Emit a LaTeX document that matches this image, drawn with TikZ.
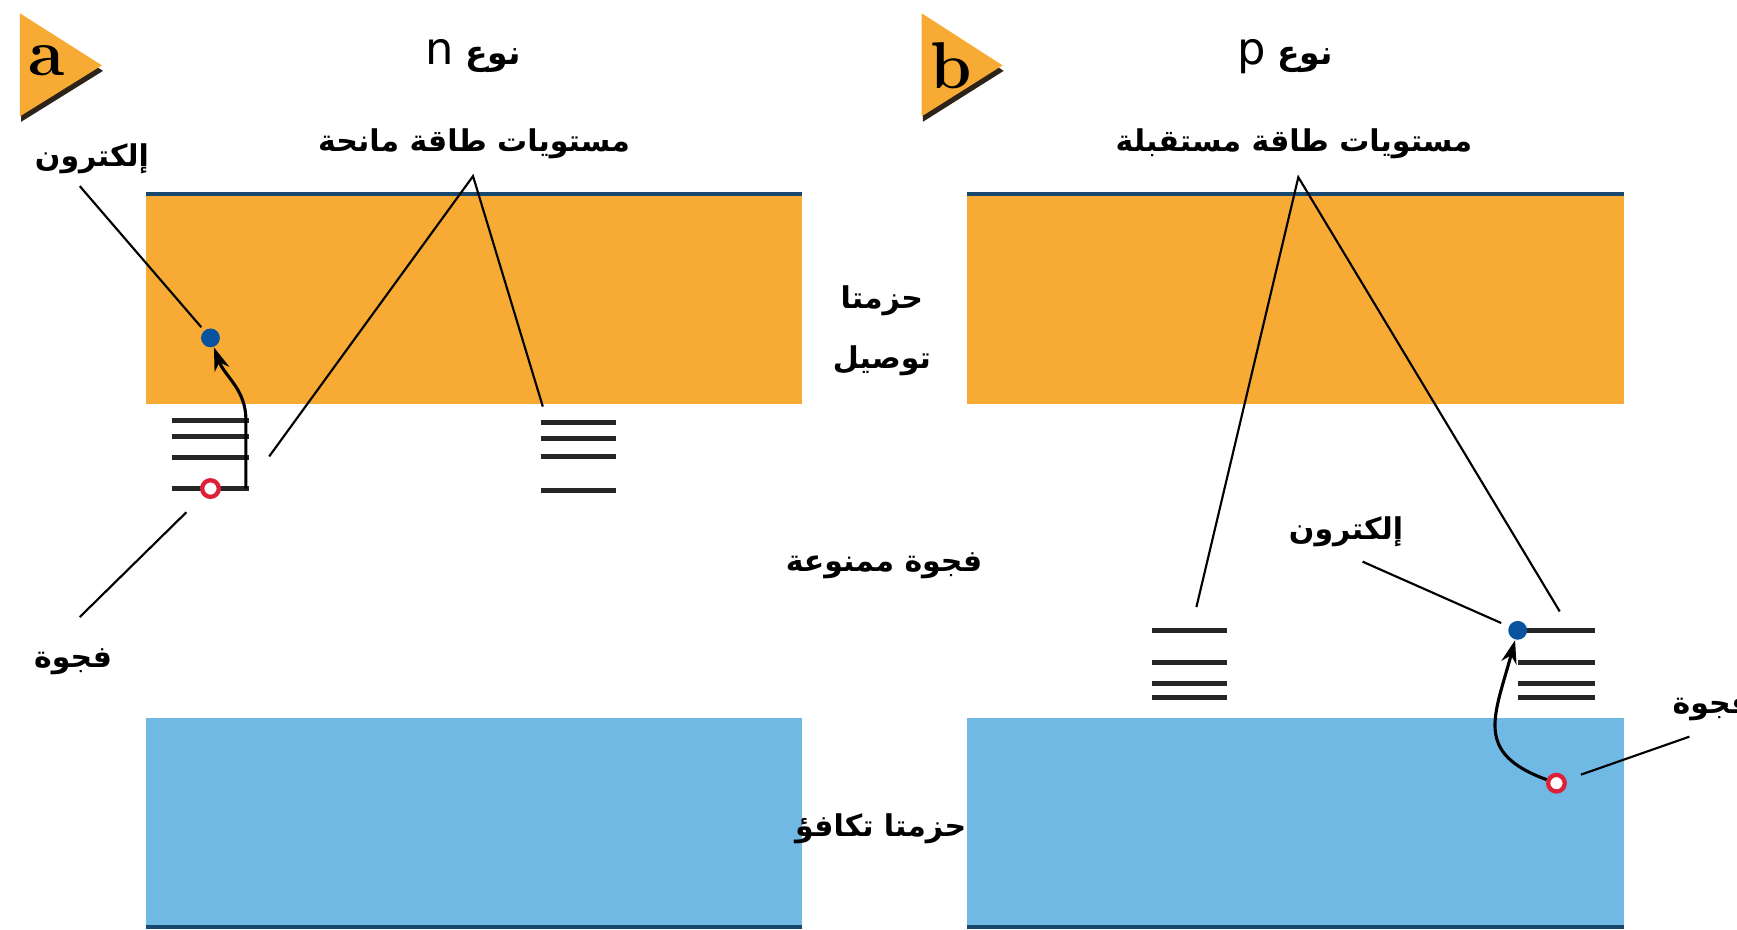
\documentclass[tikz,border=0pt]{standalone}
\usepackage{fontspec}
\usepackage{tikz}
\usetikzlibrary{arrows.meta}
\TeXXeTstate=1
\newfontfamily\arabicfont[Script=Arabic]{DejaVu Sans}
\definecolor{bandorange}{RGB}{247,171,52}
\definecolor{bandblue}{RGB}{112,185,228}
\definecolor{edgeblue}{RGB}{25,72,110}
\definecolor{elecblue}{RGB}{8,82,158}
\definecolor{holered}{RGB}{222,32,56}
\definecolor{tagshade}{RGB}{45,35,25}
\newcommand{\artext}[1]{\beginR #1\endR}
\tikzset{
  arlabel/.style={font=\arabicfont\bfseries\fontsize{7.7}{15.4}\selectfont, inner sep=1pt, align=center},
  title/.style={font=\arabicfont\bfseries\fontsize{8.5}{10}\selectfont, inner sep=1pt},
  tagletter/.style={font=\bfseries\fontsize{17}{20}\selectfont, inner sep=0pt},
  level/.style={line width=1.3pt, black!85},
  leader/.style={line width=0.55pt},
  flow/.style={line width=0.8pt, -{Stealth[length=6pt,width=4pt]}},
  electron/.style={circle, fill=elecblue, inner sep=0pt, minimum size=0.17cm},
  hole/.style={circle, draw=holered, fill=white, line width=1.1pt, inner sep=0pt, minimum size=0.15cm}
}

\begin{document}
\begin{tikzpicture}

  \useasboundingbox (0,0) rectangle (15.68,8.39);

  % Panel tags
  \fill[tagshade] (0.19,8.23) -- (0.19,7.29) -- (0.93,7.75) -- cycle;
  \fill[bandorange] (0.18,8.27) -- (0.18,7.34) -- (0.92,7.80) -- cycle;
  \node[tagletter] (tagA) at (0.42,7.84) {a};
  \fill[tagshade] (8.33,8.23) -- (8.33,7.29) -- (9.06,7.75) -- cycle;
  \fill[bandorange] (8.32,8.27) -- (8.32,7.34) -- (9.05,7.80) -- cycle;
  \node[tagletter] (tagB) at (8.59,7.80) {b};

  % Titles
  \node[title] (typeN) at (4.27,7.88) {\artext{نوع {\mdseries\fontsize{11.5}{13}\selectfont n}}};
  \node[title] (typeP) at (11.60,7.88) {\artext{نوع {\mdseries\fontsize{11.5}{13}\selectfont p}}};

  % Conduction bands
  \fill[bandorange] (1.32,4.74) rectangle (7.24,6.64);
  \draw[edgeblue, line width=1.1pt] (1.32,6.64) -- (7.24,6.64);
  \fill[bandorange] (8.73,4.74) rectangle (14.66,6.64);
  \draw[edgeblue, line width=1.1pt] (8.73,6.64) -- (14.66,6.64);

  % Valence bands
  \fill[bandblue] (1.32,0) rectangle (7.24,1.91);
  \draw[edgeblue, line width=1.1pt] (1.32,0.02) -- (7.24,0.02);
  \fill[bandblue] (8.73,0) rectangle (14.66,1.91);
  \draw[edgeblue, line width=1.1pt] (8.73,0.02) -- (14.66,0.02);

  % Middle labels
  \node[arlabel] (condLbl) at (7.96,5.40)
    {\artext{حزمتا}\\\artext{توصيل}};
  \node[arlabel] (gapLbl) at (7.98,3.28) {\artext{فجوة ممنوعة}};
  \node[arlabel] (valLbl) at (7.95,0.91) {\artext{حزمتا تكافؤ}};

  % Donor levels (n type)
  \draw[level] (1.55,4.59) -- (2.25,4.59) (1.55,4.45) -- (2.25,4.45)
    (1.55,4.26) -- (2.25,4.26) (1.55,3.98) -- (2.25,3.98);
  \draw[level] (4.88,4.58) -- (5.56,4.58) (4.88,4.43) -- (5.56,4.43)
    (4.88,4.27) -- (5.56,4.27) (4.88,3.96) -- (5.56,3.96);

  % Electron and hole (n type)
  \node[electron] (eA) at (1.90,5.34) {};
  \node[hole] (hA) at (1.90,3.98) {};
  \coordinate (stepA) at (2.22,3.98);
  \draw[flow] (stepA) -- ++(0,0.62) to[out=90,in=-70] (eA);

  \node[arlabel] (elecA) at (0.83,6.96) {\artext{إلكترون}};
  \coordinate (elecA-tail) at (0.72,6.71);
  \draw[leader, shorten >=1pt] (elecA-tail) -- (eA);
  \node[arlabel] (holeA) at (0.66,2.42) {\artext{فجوة}};
  \coordinate (holeA-tail) at (0.72,2.82);
  \draw[leader, shorten >=6pt] (holeA-tail) -- (hA);

  % Donor label
  \node[arlabel] (donorLbl) at (4.28,7.09) {\artext{مستويات طاقة مانحة}};
  \coordinate (apexA) at (4.27,6.80);
  \coordinate (donA1) at (2.43,4.27);
  \coordinate (donA2) at (4.90,4.72);
  \draw[leader] (donA1) -- (apexA) -- (donA2);

  % Acceptor levels (p type)
  \draw[level] (10.40,2.70) -- (11.08,2.70) (10.40,2.41) -- (11.08,2.41)
    (10.40,2.22) -- (11.08,2.22) (10.40,2.09) -- (11.08,2.09);
  \draw[level] (13.70,2.70) -- (14.40,2.70) (13.70,2.41) -- (14.40,2.41)
    (13.70,2.22) -- (14.40,2.22) (13.70,2.09) -- (14.40,2.09);

  % Electron and hole (p type)
  \node[electron] (eB) at (13.70,2.70) {};
  \node[hole] (hB) at (14.05,1.32) {};
  \draw[flow] (hB) to[out=160,in=-105,looseness=1.4] (eB);

  \node[arlabel] (elecB) at (12.15,3.59) {\artext{إلكترون}};
  \coordinate (elecB-tail) at (12.30,3.32);
  \draw[leader, shorten >=2pt] (elecB-tail) -- (eB);
  \node[arlabel] (holeB) at (15.45,2.00) {\artext{فجوة}};
  \coordinate (holeB-tail) at (15.25,1.74);
  \draw[leader, shorten <=4pt] (hB) -- (holeB-tail);

  % Acceptor label
  \node[arlabel] (accLbl) at (11.68,7.09) {\artext{مستويات طاقة مستقبلة}};
  \coordinate (apexB) at (11.72,6.79);
  \coordinate (accB1) at (10.80,2.91);
  \coordinate (accB2) at (14.08,2.87);
  \draw[leader] (accB1) -- (apexB) -- (accB2);

\end{tikzpicture}
\end{document}
